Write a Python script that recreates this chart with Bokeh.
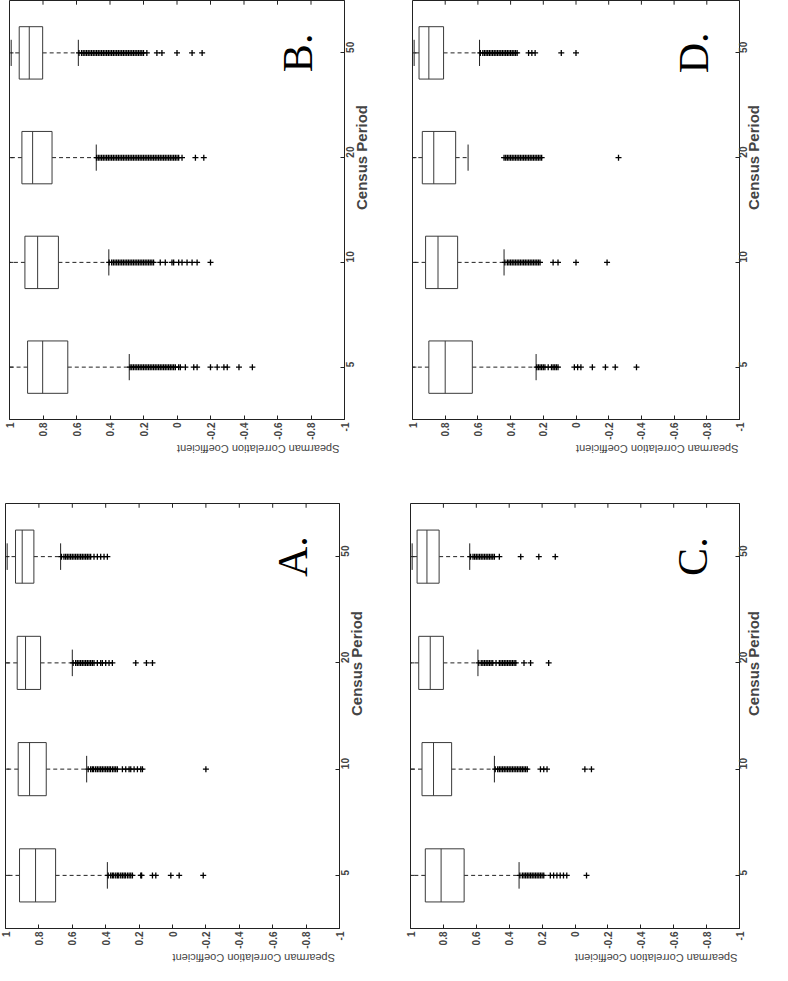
import math
from bokeh.plotting import figure
from bokeh.models import FactorRange, Range1d, FixedTicker, ColumnDataSource
from bokeh.transform import dodge
from bokeh.layouts import column, row
from bokeh.core.properties import value
from bokeh.embed import file_html
from bokeh.resources import INLINE

periods = ["5", "10", "20", "50"]
spearman_ticks = [1, 0.8, 0.6, 0.4, 0.2, 0, -0.2, -0.4, -0.6, -0.8, -1]
spearman_labels = ["1", "0.8", "0.6", "0.4", "0.2", "0", "-0.2", "-0.4", "-0.6", "-0.8", "-1"]

# ---- Panel A ----
a_hi = [1.0, 1.0, 1.0, 0.99]
a_q3 = [0.916, 0.924, 0.93, 0.94]
a_med = [0.82, 0.856, 0.88, 0.90]
a_q1 = [0.70, 0.756, 0.79, 0.83]
a_lo = [0.39, 0.514, 0.60, 0.67]
a_out = [
    [0.385, 0.37, 0.36, 0.352, 0.34, 0.33, 0.322, 0.31, 0.30, 0.29, 0.282, 0.27, 0.26, 0.25, 0.24,
     0.19, 0.185, 0.12, 0.10, 0.01, -0.04, -0.184],
    [0.505, 0.49, 0.48, 0.472, 0.46, 0.45, 0.44, 0.43, 0.42, 0.41, 0.40, 0.39, 0.38, 0.372, 0.36,
     0.35, 0.34, 0.33, 0.30, 0.28, 0.26, 0.25, 0.23, 0.21, 0.19, 0.18, -0.20],
    [0.595, 0.58, 0.57, 0.56, 0.55, 0.54, 0.53, 0.52, 0.51, 0.50, 0.49, 0.48, 0.47, 0.45, 0.43,
     0.42, 0.40, 0.38, 0.36, 0.22, 0.156, 0.12],
    [0.665, 0.65, 0.64, 0.63, 0.62, 0.61, 0.60, 0.59, 0.58, 0.57, 0.56, 0.55, 0.54, 0.53, 0.52,
     0.51, 0.50, 0.49, 0.47, 0.45, 0.43, 0.41, 0.39],
]

# ---- Panel B ----
b_hi = [1.0, 1.0, 1.0, 0.99]
b_q3 = [0.892, 0.908, 0.926, 0.942]
b_med = [0.802, 0.832, 0.862, 0.882]
b_q1 = [0.652, 0.708, 0.746, 0.802]
b_lo = [0.285, 0.407, 0.482, 0.589]
b_out = [
    [0.28, 0.27, 0.26, 0.25, 0.24, 0.23, 0.22, 0.21, 0.20, 0.19, 0.18, 0.17, 0.16, 0.15, 0.14,
     0.13, 0.12, 0.11, 0.10, 0.09, 0.08, 0.07, 0.06, 0.05, 0.04, 0.03, 0.02, 0.01, -0.01, -0.02,
     -0.05, -0.10, -0.12, -0.20, -0.24, -0.28, -0.30, -0.37, -0.45],
    [0.405, 0.39, 0.38, 0.37, 0.36, 0.35, 0.34, 0.33, 0.32, 0.31, 0.30, 0.29, 0.28, 0.27, 0.26,
     0.25, 0.24, 0.23, 0.22, 0.21, 0.20, 0.19, 0.18, 0.17, 0.16, 0.15, 0.14,
     0.10, 0.07, 0.03, 0.02, -0.01, -0.03, -0.06, -0.09, -0.12, -0.20],
    [0.48, 0.47, 0.46, 0.45, 0.44, 0.43, 0.42, 0.41, 0.40, 0.39, 0.38, 0.37, 0.36, 0.35, 0.34,
     0.33, 0.32, 0.31, 0.30, 0.29, 0.28, 0.27, 0.26, 0.25, 0.24, 0.23, 0.22, 0.21, 0.20, 0.19,
     0.18, 0.17, 0.16, 0.15, 0.14, 0.13, 0.12, 0.11, 0.10, 0.09, 0.08, 0.07, 0.06, 0.05, 0.04,
     0.03, 0.02, 0.01, 0.0, -0.01, -0.03, -0.11, -0.16],
    [0.585, 0.57, 0.56, 0.55, 0.54, 0.53, 0.52, 0.51, 0.50, 0.49, 0.48, 0.47, 0.46, 0.45, 0.44,
     0.43, 0.42, 0.41, 0.40, 0.39, 0.38, 0.37, 0.36, 0.35, 0.34, 0.33, 0.32, 0.31, 0.30, 0.29,
     0.28, 0.27, 0.26, 0.25, 0.24, 0.23, 0.22, 0.21, 0.20, 0.18, 0.12, 0.09, 0.0, -0.09, -0.15],
]

# ---- Panel C ----
c_hi = [1.0, 1.0, 1.0, 0.99]
c_q3 = [0.91, 0.93, 0.95, 0.96]
c_med = [0.814, 0.86, 0.88, 0.90]
c_q1 = [0.674, 0.75, 0.80, 0.826]
c_lo = [0.34, 0.49, 0.59, 0.64]
c_out = [
    [0.335, 0.32, 0.31, 0.30, 0.29, 0.28, 0.27, 0.26, 0.25, 0.24, 0.23, 0.22, 0.21, 0.20, 0.19,
     0.15, 0.13, 0.11, 0.09, 0.07, 0.05, -0.07],
    [0.485, 0.47, 0.46, 0.45, 0.44, 0.43, 0.42, 0.41, 0.40, 0.39, 0.38, 0.37, 0.36, 0.35, 0.34,
     0.33, 0.32, 0.31, 0.30, 0.29, 0.21, 0.19, 0.17, -0.06, -0.10],
    [0.585, 0.57, 0.56, 0.55, 0.54, 0.53, 0.52, 0.51, 0.50, 0.48, 0.46, 0.45, 0.44, 0.43, 0.42,
     0.41, 0.40, 0.39, 0.38, 0.37, 0.36, 0.31, 0.27, 0.16],
    [0.635, 0.62, 0.61, 0.60, 0.59, 0.58, 0.57, 0.56, 0.55, 0.54, 0.53, 0.52, 0.51, 0.50, 0.49,
     0.46, 0.33, 0.22, 0.12],
]

# ---- Panel D ----
d_hi = [1.0, 1.0, 1.0, 0.99]
d_q3 = [0.90, 0.92, 0.94, 0.96]
d_med = [0.80, 0.844, 0.87, 0.90]
d_q1 = [0.634, 0.724, 0.736, 0.81]
d_lo = [0.244, 0.44, 0.66, 0.59]
d_out = [
    [0.24, 0.23, 0.22, 0.21, 0.20, 0.19, 0.17, 0.15, 0.14, 0.13, 0.12, 0.11,
     0.01, -0.01, -0.03, -0.10, -0.18, -0.24, -0.37],
    [0.435, 0.42, 0.41, 0.40, 0.39, 0.38, 0.37, 0.36, 0.35, 0.34, 0.33, 0.32, 0.31, 0.30, 0.29,
     0.28, 0.27, 0.26, 0.25, 0.24, 0.23, 0.22, 0.14, 0.11, 0.0, -0.19],
    [0.44, 0.43, 0.42, 0.41, 0.40, 0.39, 0.38, 0.37, 0.36, 0.35, 0.34, 0.33, 0.32, 0.31, 0.30,
     0.29, 0.28, 0.27, 0.26, 0.25, 0.24, 0.23, 0.22, 0.21, -0.26],
    [0.585, 0.57, 0.56, 0.55, 0.54, 0.53, 0.52, 0.51, 0.50, 0.49, 0.48, 0.47, 0.46, 0.45, 0.44,
     0.43, 0.42, 0.41, 0.40, 0.39, 0.38, 0.37, 0.36, 0.29, 0.27, 0.25, 0.09, 0.0],
]

letter_x = -0.72
FONT = "Liberation Sans"
INK = "#222222"
BOXC = "#3a3a3a"


def panel(letter, hi, q3, med, q1, lo, out, fw, fh, l, r, t, b, tick_so, lab_so):
    p = figure(frame_width=fw, frame_height=fh,
               x_range=Range1d(1, -1), y_range=FactorRange(*periods),
               y_axis_location="right", x_axis_location="below",
               output_backend="svg", toolbar_location=None,
               min_border_left=l, min_border_right=r,
               min_border_top=t, min_border_bottom=b)
    p.grid.visible = False
    p.outline_line_color = INK
    p.outline_line_width = 1
    p.background_fill_color = "white"
    p.border_fill_color = "white"

    src = ColumnDataSource(dict(y=periods, hi=hi, q3=q3, med=med, q1=q1, lo=lo))
    yr = p.y_range

    # mirrored inward tick marks on the opposite frame edges (from the tick arrays)
    top_src = ColumnDataSource(dict(x=spearman_ticks, y=[periods[-1]] * len(spearman_ticks)))
    p.segment(x0="x", x1="x", y0=dodge("y", 0.5, range=yr), y1=dodge("y", 0.46, range=yr),
              source=top_src, line_color=INK, line_width=1)
    left_src = ColumnDataSource(dict(y=periods, x0=[spearman_ticks[0]] * len(periods),
                                     x1=[spearman_ticks[0] - 0.024] * len(periods)))
    p.segment(x0="x0", x1="x1", y0="y", y1="y", source=left_src, line_color=INK, line_width=1)

    # whiskers
    p.segment(x0="q1", x1="lo", y0="y", y1="y", source=src,
              line_color=INK, line_width=1, line_dash="4 3")
    p.segment(x0="q3", x1="hi", y0="y", y1="y", source=src,
              line_color=INK, line_width=1, line_dash="4 3")
    # caps
    p.segment(x0="lo", x1="lo", y0=dodge("y", -0.125, range=yr), y1=dodge("y", 0.125, range=yr),
              source=src, line_color=INK, line_width=1)
    p.segment(x0="hi", x1="hi", y0=dodge("y", -0.125, range=yr), y1=dodge("y", 0.125, range=yr),
              source=src, line_color=INK, line_width=1)
    # boxes
    p.hbar(y="y", left="q1", right="q3", height=0.5, source=src,
           fill_color=None, line_color=BOXC, line_width=1)
    # medians
    p.segment(x0="med", x1="med", y0=dodge("y", -0.25, range=yr), y1=dodge("y", 0.25, range=yr),
              source=src, line_color=BOXC, line_width=1)
    # outliers
    ox, oy = [], []
    for cat, vals in zip(periods, out):
        for v in vals:
            ox.append(v)
            oy.append(cat)
    p.scatter(x=ox, y=oy, marker="cross", size=6, line_color="black", line_width=1.3)

    # panel letter
    p.text(x=[letter_x], y=[periods[-1]], text=[letter], angle=math.pi / 2,
           text_font=value("Liberation Serif"), text_font_size=value("42px"),
           text_align="center", text_baseline="middle", text_color="black")

    xa = p.xaxis[0]
    xa.ticker = FixedTicker(ticks=spearman_ticks)
    xa.major_label_overrides = {t_: s for t_, s in zip(spearman_ticks, spearman_labels)}
    xa.major_label_orientation = math.pi / 2
    xa.axis_label = "Spearman Correlation Coefficient"
    xa.axis_label_text_font = FONT
    xa.axis_label_text_font_size = "11px"
    xa.axis_label_text_font_style = "normal"
    xa.axis_label_standoff = 6
    xa.major_label_standoff = 3
    xa.major_label_text_font = FONT
    xa.major_label_text_font_size = "10px"
    xa.major_label_text_font_style = "bold"
    xa.major_tick_in = 4
    xa.major_tick_out = 0
    xa.minor_tick_line_color = None
    xa.axis_line_color = INK
    xa.major_tick_line_color = INK

    ya = p.yaxis[0]
    ya.major_label_orientation = math.pi / 2
    ya.axis_label = "Census Period"
    ya.axis_label_text_font = FONT
    ya.axis_label_text_font_size = "15px"
    ya.axis_label_text_font_style = "bold"
    ya.axis_label_standoff = lab_so
    ya.major_label_standoff = tick_so
    ya.major_label_text_font = FONT
    ya.major_label_text_font_size = "10px"
    ya.major_label_text_font_style = "bold"
    ya.major_tick_in = 4
    ya.major_tick_out = 0
    ya.axis_line_color = INK
    ya.major_tick_line_color = INK
    try:
        xa.axis_label_orientation = math.pi
        ya.axis_label_orientation = math.pi / 2
    except Exception:
        pass
    return p


pB = panel("B.", b_hi, b_q3, b_med, b_q1, b_lo, b_out, 335, 419, 9, 45, 0, 43, 5, 1)
pD = panel("D.", d_hi, d_q3, d_med, d_q1, d_lo, d_out, 327, 419, 23, 33, 0, 43, 3, 0)
pA = panel("A.", a_hi, a_q3, a_med, a_q1, a_lo, a_out, 334, 425, 5, 45, 40, 37, 5, 1)
pC = panel("C.", c_hi, c_q3, c_med, c_q1, c_lo, c_out, 329, 425, 26, 33, 40, 37, 3, 0)

layout = column(row(pB, pD), row(pA, pC))
open("out.html", "w").write(file_html(layout, INLINE))
